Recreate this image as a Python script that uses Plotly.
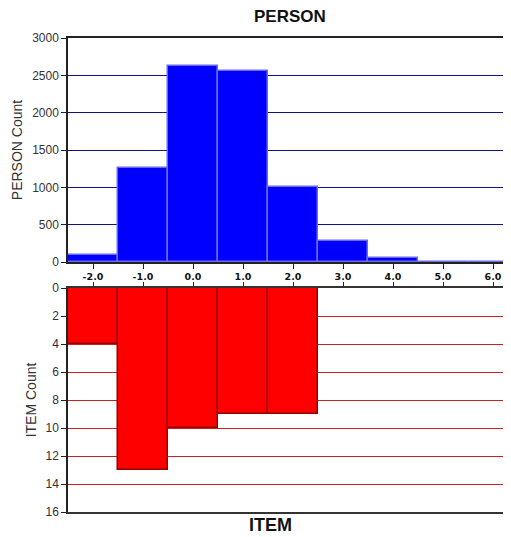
import plotly.graph_objects as go
from plotly.subplots import make_subplots

measures = [-2, -1, 0, 1, 2, 3, 4, 5, 6]
tick_labels = ["-2.0", "-1.0", "0.0", "1.0", "2.0", "3.0", "4.0", "5.0", "6.0"]
person_counts = [95, 1262, 2622, 2558, 1010, 285, 58, 0, 0]
item_counts = [4, 13, 10, 9, 9, 0, 0, 0, 0]

fig = make_subplots(rows=2, cols=1, shared_xaxes=False, vertical_spacing=0)

fig.add_trace(go.Bar(x=measures, y=person_counts, width=1,
                     marker=dict(color="#0000ff", line=dict(color="#6a6ae8", width=1.5)),
                     showlegend=False), row=1, col=1)
fig.add_trace(go.Bar(x=measures, y=item_counts, width=1,
                     marker=dict(color="#ff0000", line=dict(color="#9a0000", width=1.5)),
                     showlegend=False), row=2, col=1)

OFF = 8  # page body margin
W, H = 511 - OFF, 537 - OFF
ml, mr = 68 - OFF, 0
mt = 38 - OFF
mb = H - (512 - OFF)
ph = H - mt - mb
pw = W - ml - mr
top_dom = [(512 - 262) / ph, 1]
bot_dom = [0, (512 - 288) / ph]

xr = [-2.5, -2.5 + pw / 50.0]
tickfont = dict(family="DejaVu Sans", size=9.5, color="#111111", weight="bold")
yfont = dict(family="Liberation Sans", size=12, color="#333333")
titlefont = dict(family="Liberation Sans", size=14, color="#333333")

fig.update_layout(
    width=W, height=H,
    margin=dict(l=ml, r=mr, t=mt, b=mb, pad=0),
    plot_bgcolor="white", paper_bgcolor="white",
    bargap=0,
    xaxis=dict(range=xr, tickvals=measures, ticktext=tick_labels, tickfont=tickfont,
               ticks="outside", ticklen=5, tickcolor="#222", showline=True, linecolor="#222",
               linewidth=1.5, mirror=True, showgrid=False, zeroline=False),
    xaxis2=dict(range=xr, tickvals=measures, showticklabels=False, side="top",
                ticks="outside", ticklen=4, tickcolor="#222", showline=True, linecolor="#333",
                linewidth=1.5, mirror=True, showgrid=False, zeroline=False),
    yaxis=dict(domain=top_dom, range=[0, 3000], tickvals=[0, 500, 1000, 1500, 2000, 2500, 3000],
               tickfont=yfont, ticks="outside", ticklen=5, tickcolor="#222",
               showline=True, linecolor="#222", linewidth=1.5,
               showgrid=True, gridcolor="#10108a", gridwidth=1, zeroline=False,
               title=dict(text="PERSON Count", font=titlefont, standoff=6)),
    yaxis2=dict(domain=bot_dom, range=[16, 0], tickvals=[0, 2, 4, 6, 8, 10, 12, 14, 16],
                tickfont=yfont, ticks="outside", ticklen=5, tickcolor="#222",
                showline=True, linecolor="#222", linewidth=1.5,
                showgrid=True, gridcolor="#cc2020", gridwidth=1, zeroline=False,
                title=dict(text="ITEM Count", font=titlefont, standoff=6)),
    annotations=[
        dict(text="<b>PERSON</b>", x=(290 - 68) / pw, xref="paper",
             y=1 + (38 - 17) / ph, yref="paper", yanchor="middle", xanchor="center",
             showarrow=False, font=dict(family="Liberation Sans", size=17, color="#111")),
        dict(text="<b>ITEM</b>", x=(270 - 68) / pw, xref="paper",
             y=-(525 - 512) / ph, yref="paper", yanchor="middle", xanchor="center",
             showarrow=False, font=dict(family="Liberation Sans", size=18, color="#111")),
    ],
)

fig.write_html("out.html")
